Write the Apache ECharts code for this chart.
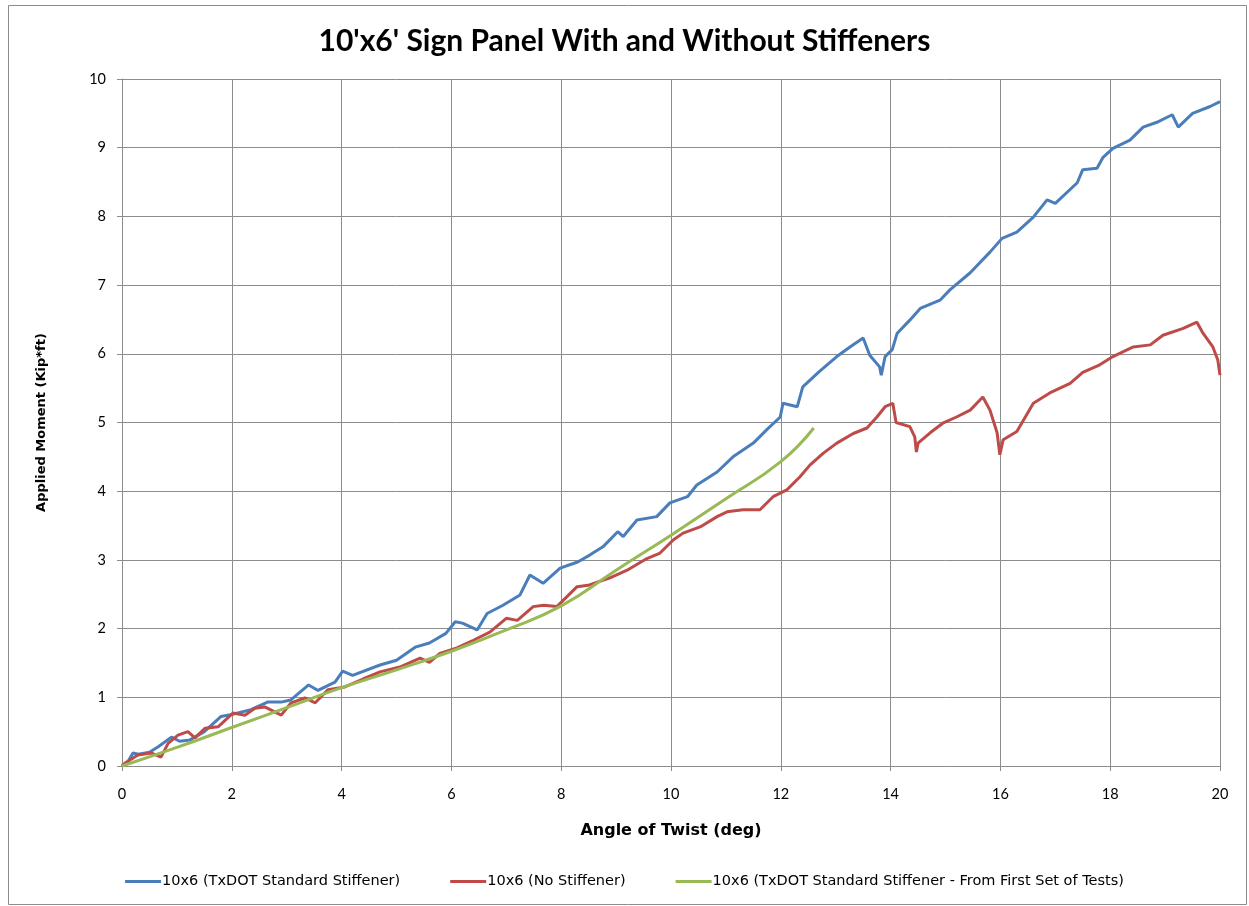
<!DOCTYPE html>
<html>
<head>
<meta charset="utf-8">
<script src="https://cdn.jsdelivr.net/npm/echarts@6/dist/echarts.min.js"></script>
<style>
html,body{margin:0;padding:0;background:#fff;}
#chart{width:1249px;height:906px;}
</style>
</head>
<body>
<div id="chart"></div>
<script>
const seriesNames = [
  "10x6 (TxDOT Standard Stiffener)",
  "10x6 (No Stiffener)",
  "10x6 (TxDOT Standard Stiffener - From First Set of Tests)"
];
const xTicks = [0,2,4,6,8,10,12,14,16,18,20];
const yTicks = [0,1,2,3,4,5,6,7,8,9,10];

const stiffenerData = [[0,0],[0.1,0.05],[0.2,0.19],[0.3,0.17],[0.5,0.2],[0.66,0.28],[0.9,0.42],[1.05,0.36],[1.24,0.38],[1.5,0.5],[1.8,0.72],[2.0,0.75],[2.35,0.82],[2.65,0.93],[2.9,0.93],[3.07,0.96],[3.4,1.18],[3.57,1.1],[3.88,1.22],[4.02,1.38],[4.2,1.32],[4.7,1.47],[5.0,1.54],[5.34,1.73],[5.6,1.79],[5.9,1.93],[6.07,2.1],[6.2,2.08],[6.47,1.98],[6.65,2.22],[6.94,2.34],[7.25,2.49],[7.43,2.78],[7.67,2.66],[7.98,2.88],[8.3,2.97],[8.52,3.07],[8.76,3.19],[9.03,3.41],[9.13,3.34],[9.38,3.58],[9.74,3.63],[9.98,3.83],[10.3,3.92],[10.47,4.09],[10.84,4.28],[11.13,4.5],[11.5,4.7],[11.75,4.9],[11.99,5.08],[12.04,5.28],[12.3,5.23],[12.4,5.52],[12.7,5.74],[13.02,5.96],[13.26,6.1],[13.5,6.23],[13.62,5.98],[13.8,5.81],[13.83,5.69],[13.9,5.96],[14.03,6.06],[14.12,6.3],[14.35,6.49],[14.54,6.66],[14.9,6.78],[15.08,6.93],[15.45,7.18],[15.81,7.48],[16.03,7.68],[16.3,7.77],[16.6,7.99],[16.85,8.24],[17.0,8.19],[17.4,8.49],[17.5,8.68],[17.76,8.7],[17.87,8.86],[18.05,8.99],[18.36,9.11],[18.6,9.3],[18.85,9.37],[19.13,9.48],[19.24,9.3],[19.5,9.5],[19.82,9.6],[20,9.67]];

const noStiffenerData = [[0,0],[0.05,0.04],[0.29,0.16],[0.53,0.19],[0.71,0.13],[0.84,0.33],[1.02,0.45],[1.2,0.5],[1.33,0.41],[1.51,0.55],[1.75,0.57],[2.02,0.77],[2.24,0.74],[2.42,0.84],[2.6,0.86],[2.9,0.74],[3.08,0.92],[3.33,0.99],[3.52,0.92],[3.75,1.11],[4.06,1.15],[4.4,1.27],[4.7,1.37],[5.06,1.44],[5.43,1.57],[5.6,1.51],[5.79,1.64],[6.1,1.72],[6.4,1.83],[6.7,1.95],[7.0,2.15],[7.2,2.12],[7.49,2.32],[7.68,2.34],[7.92,2.32],[8.29,2.61],[8.49,2.63],[8.89,2.74],[9.2,2.85],[9.56,3.02],[9.8,3.1],[10.04,3.29],[10.22,3.39],[10.53,3.48],[10.84,3.63],[11.02,3.7],[11.31,3.73],[11.62,3.73],[11.86,3.92],[12.11,4.02],[12.35,4.21],[12.53,4.38],[12.77,4.55],[13.02,4.7],[13.32,4.84],[13.57,4.92],[13.75,5.08],[13.9,5.23],[14.04,5.28],[14.1,5.0],[14.35,4.94],[14.44,4.79],[14.47,4.57],[14.5,4.7],[14.72,4.85],[14.95,4.99],[15.2,5.08],[15.45,5.18],[15.68,5.37],[15.81,5.18],[15.94,4.85],[15.99,4.53],[16.05,4.75],[16.3,4.87],[16.6,5.28],[16.9,5.43],[17.27,5.57],[17.5,5.73],[17.81,5.84],[18.05,5.96],[18.42,6.1],[18.73,6.13],[18.96,6.27],[19.33,6.37],[19.58,6.46],[19.69,6.3],[19.87,6.1],[19.96,5.91],[20,5.69]];

const firstSetData = [[0,0],[1,0.27],[2,0.56],[3,0.85],[4,1.14],[5,1.4],[6,1.67],[7,1.98],[8,2.33],[9,2.85],[10,3.36],[11,3.89],[12,4.43],[12.6,4.92]];

const colors = ['#4a7ebb', '#be4b48', '#98b954'];
const FONT = 'Lato, "Liberation Sans", sans-serif';
const WIDE = '"DejaVu Sans", sans-serif';

const chart = echarts.init(document.getElementById('chart'));
const gridColor = '#8c8c8c';
chart.setOption({
  animation: false,
  backgroundColor: '#fff',
  color: colors,
  graphic: [{
    type: 'rect', left: 6, top: 3, silent: true,
    shape: {width: 1238, height: 899},
    style: {fill: 'none', stroke: '#8c8c8c', lineWidth: 1}
  }],
  title: {
    text: "10'x6' Sign Panel With and Without Stiffeners",
    left: 'center', top: 21,
    textStyle: {fontFamily: FONT, fontSize: 30, fontWeight: 'bold', color: '#000'}
  },
  legend: {
    bottom: 12, left: 'center',
    itemWidth: 36, itemHeight: 3, itemGap: 50,
    icon: 'rect',
    textStyle: {fontFamily: WIDE, fontSize: 14.5, color: '#000', padding: [0,0,0,-4]},
    data: seriesNames
  },
  grid: {left: 122, right: 29, top: 79, bottom: 140, containLabel: false},
  xAxis: {
    type: 'value', min: 0, max: 20, interval: 2,
    name: 'Angle of Twist (deg)', nameLocation: 'middle', nameGap: 57,
    nameTextStyle: {fontFamily: WIDE, fontSize: 16, fontWeight: 'bold', color: '#000'},
    axisLine: {show: true, lineStyle: {color: gridColor, width: 1}},
    axisTick: {show: true, inside: false, length: 5, lineStyle: {color: gridColor}},
    axisLabel: {fontFamily: FONT, fontSize: 14.5, color: '#000', margin: 21,
      formatter: v => xTicks.includes(v) ? String(v) : ''},
    splitLine: {show: true, lineStyle: {color: gridColor, width: 1}}
  },
  yAxis: {
    type: 'value', min: 0, max: 10, interval: 1,
    name: 'Applied Moment (Kip*ft)', nameLocation: 'middle', nameGap: 74,
    nameTextStyle: {fontFamily: WIDE, fontSize: 13, fontWeight: 'bold', color: '#000'},
    axisLine: {show: true, lineStyle: {color: gridColor, width: 1}},
    axisTick: {show: true, inside: false, length: 5, lineStyle: {color: gridColor}},
    axisLabel: {fontFamily: FONT, fontSize: 14.5, color: '#000', margin: 16,
      formatter: v => yTicks.includes(v) ? String(v) : ''},
    splitLine: {show: true, lineStyle: {color: gridColor, width: 1}}
  },
  series: [
    {name: seriesNames[0], type: 'line', data: stiffenerData, showSymbol: false, symbol: 'none',
     lineStyle: {width: 3, color: colors[0]}, z: 3},
    {name: seriesNames[1], type: 'line', data: noStiffenerData, showSymbol: false, symbol: 'none',
     lineStyle: {width: 3, color: colors[1]}, z: 4},
    {name: seriesNames[2], type: 'line', data: firstSetData, showSymbol: false, symbol: 'none', smooth: true,
     lineStyle: {width: 3, color: colors[2]}, z: 5}
  ]
});
</script>
</body>
</html>
